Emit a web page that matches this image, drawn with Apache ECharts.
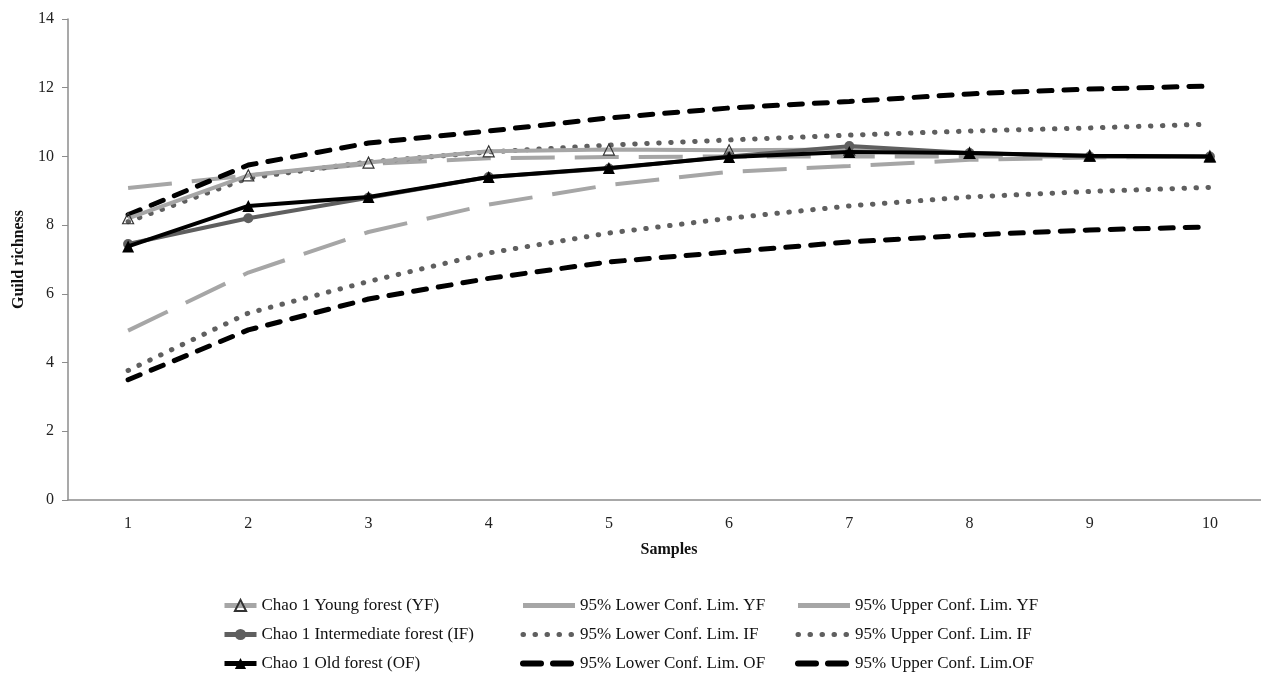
<!DOCTYPE html>
<html>
<head>
<meta charset="utf-8">
<script src="https://cdn.jsdelivr.net/npm/echarts@6/dist/echarts.min.js"></script>
<style>
  html, body { margin: 0; padding: 0; background: #fff; }
  #chart { width: 1261px; height: 676px; }
</style>
</head>
<body>
<div id="chart"></div>
<script>
var samples = ['1', '2', '3', '4', '5', '6', '7', '8', '9', '10'];

// Chao 1 estimates
var chaoYF = [8.2, 9.45, 9.82, 10.15, 10.2, 10.18, 10.2, 10.1, 10.02, 10.0];
var chaoIF = [7.45, 8.2, 8.8, 9.4, 9.65, 10.0, 10.3, 10.1, 10.0, 10.0];
var chaoOF = [7.38, 8.56, 8.82, 9.4, 9.66, 9.98, 10.13, 10.1, 10.02, 10.0];

// 95% confidence limits
var lowYF = [4.93, 6.62, 7.8, 8.6, 9.17, 9.55, 9.72, 9.9, 9.97, 10.0];
var upYF = [9.08, 9.45, 9.78, 9.95, 9.98, 10.0, 10.0, 10.0, 10.0, 10.0];
var lowIF = [3.77, 5.44, 6.36, 7.19, 7.77, 8.2, 8.56, 8.82, 8.98, 9.1];
var upIF = [8.1, 9.37, 9.84, 10.13, 10.33, 10.48, 10.62, 10.74, 10.83, 10.94];
var lowOF = [3.5, 4.95, 5.85, 6.45, 6.93, 7.22, 7.51, 7.71, 7.86, 7.95];
var upOF = [8.3, 9.75, 10.39, 10.74, 11.12, 11.41, 11.6, 11.82, 11.96, 12.05];

var serif = '"Liberation Serif", "Times New Roman", serif';
var lightGray = '#a6a6a6';
var darkGray = '#5f5f5f';

var myChart = echarts.init(document.getElementById('chart'));

function limitStyle(kind) {
  if (kind == 'YF') return { color: lightGray, width: 4, type: [44, 20], cap: 'butt' };
  if (kind == 'IF') return { color: darkGray, width: 5, type: [0.5, 11.5], cap: 'round' };
  return { color: '#000', width: 5, type: [13, 12], cap: 'round' };
}

function limitLine(name, data, kind) {
  var ls = limitStyle(kind);
  return {
    name: name, type: 'line', data: data, symbol: 'none',
    lineStyle: ls, itemStyle: { color: ls.color }, z: 2, silent: true
  };
}

// legend entry for a limit line: line only, no marker
function limitItem(name, kind) {
  var ls = limitStyle(kind);
  var lw = { color: ls.color, width: 5, type: ls.type, cap: ls.cap };
  if (kind == 'YF') lw = { color: ls.color, width: 5, type: 'solid' };
  if (kind == 'OF') lw = { color: ls.color, width: 6, type: [18, 12], cap: 'round' };
  return { name: name, itemStyle: { opacity: 0 }, lineStyle: lw };
}

var legendText = { fontFamily: serif, fontSize: 17, color: '#111' };

var option = {
  animation: false,
  backgroundColor: '#fff',
  grid: { left: 68, right: -9, top: 19, bottom: 176, outerBoundsMode: 'none' },
  legend: [{
    left: 222, top: 597, height: 90, orient: 'vertical', itemGap: 12, padding: 0,
    itemWidth: 32, itemHeight: 14, textStyle: legendText,
    data: [
      { name: 'Chao 1 Young forest (YF)', lineStyle: { width: 5 } },
      { name: 'Chao 1 Intermediate forest (IF)', lineStyle: { width: 5 } },
      { name: 'Chao 1 Old forest (OF)', lineStyle: { width: 5 } }
    ]
  }, {
    left: 520, top: 597, height: 90, orient: 'vertical', itemGap: 12, padding: 0,
    itemWidth: 52, itemHeight: 14, textStyle: legendText,
    data: [
      limitItem('95% Lower Conf. Lim. YF', 'YF'),
      limitItem('95% Lower Conf. Lim. IF', 'IF'),
      limitItem('95% Lower Conf. Lim. OF', 'OF')
    ]
  }, {
    left: 795, top: 597, height: 90, orient: 'vertical', itemGap: 12, padding: 0,
    itemWidth: 52, itemHeight: 14, textStyle: legendText,
    data: [
      limitItem('95% Upper Conf. Lim. YF', 'YF'),
      limitItem('95% Upper Conf. Lim. IF', 'IF'),
      limitItem('95% Upper Conf. Lim.OF', 'OF')
    ]
  }],
  xAxis: {
    type: 'category',
    data: samples,
    boundaryGap: true,
    name: 'Samples',
    nameLocation: 'middle',
    nameGap: 42,
    nameTextStyle: { fontFamily: serif, fontSize: 16, fontWeight: 'bold', color: '#111' },
    axisLine: { lineStyle: { color: '#8c8c8c', width: 1.5 } },
    axisTick: { show: false },
    axisLabel: { fontFamily: serif, fontSize: 16, color: '#222', margin: 16 }
  },
  yAxis: {
    type: 'value',
    min: 0, max: 14, interval: 2,
    name: 'Guild richness',
    nameLocation: 'middle',
    nameGap: 41,
    nameRotate: 90,
    nameTextStyle: { fontFamily: serif, fontSize: 16, fontWeight: 'bold', color: '#111' },
    axisLine: { show: true, lineStyle: { color: '#8c8c8c', width: 1.5 } },
    axisTick: { show: true, length: 6, lineStyle: { color: '#8c8c8c' } },
    splitLine: { show: false },
    axisLabel: { fontFamily: serif, fontSize: 16, color: '#222', margin: 14 }
  },
  series: [
    limitLine('95% Lower Conf. Lim. YF', lowYF, 'YF'),
    limitLine('95% Upper Conf. Lim. YF', upYF, 'YF'),
    limitLine('95% Lower Conf. Lim. IF', lowIF, 'IF'),
    limitLine('95% Upper Conf. Lim. IF', upIF, 'IF'),
    limitLine('95% Lower Conf. Lim. OF', lowOF, 'OF'),
    limitLine('95% Upper Conf. Lim.OF', upOF, 'OF'),
    {
      name: 'Chao 1 Young forest (YF)', type: 'line', data: chaoYF,
      symbol: 'triangle', symbolSize: 11, showAllSymbol: true,
      lineStyle: { color: lightGray, width: 4 },
      itemStyle: { color: 'rgba(255,255,255,0)', borderColor: '#333', borderWidth: 1.2 },
      z: 3
    },
    {
      name: 'Chao 1 Intermediate forest (IF)', type: 'line', data: chaoIF,
      symbol: 'circle', symbolSize: 10, showAllSymbol: true,
      lineStyle: { color: darkGray, width: 4 },
      itemStyle: { color: darkGray },
      z: 4
    },
    {
      name: 'Chao 1 Old forest (OF)', type: 'line', data: chaoOF,
      symbol: 'triangle', symbolSize: 12, showAllSymbol: true,
      lineStyle: { color: '#000', width: 4 },
      itemStyle: { color: '#000' },
      z: 5
    }
  ]
};

myChart.setOption(option);
</script>
</body>
</html>
